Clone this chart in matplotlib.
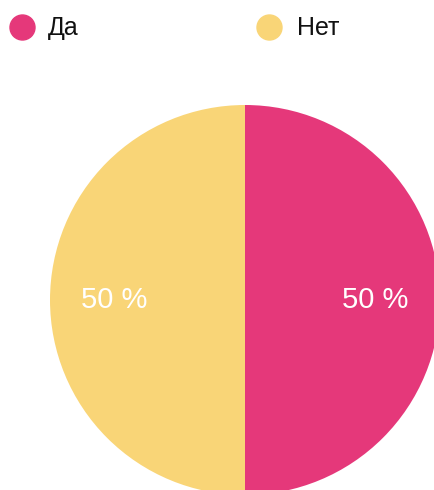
import matplotlib.pyplot as plt
from matplotlib.lines import Line2D

labels = ['Да', 'Нет']
values = [50, 50]
colors = ['#E5387A', '#F9D577']

plt.rcParams['font.family'] = ['Liberation Sans', 'DejaVu Sans']

fig = plt.figure(figsize=(4.34, 4.9), dpi=100)
W, H = 434, 490

# pie centre (245, 300) px from top, radius 195 px
cx, cy, r = 245, 490 - 300, 195
ax = fig.add_axes([(cx - r) / W, (cy - r) / H, 2 * r / W, 2 * r / H])
ax.pie(values, colors=colors, startangle=90, counterclock=False,
       autopct=lambda p: f'{p:.0f} %', pctdistance=0.67, radius=1,
       textprops={'color': 'white', 'fontsize': 21})
ax.set_xlim(-1, 1)
ax.set_ylim(-1, 1)
ax.set_aspect('equal')
ax.axis('off')

# legend row
legend_pos = [(22, 48), (269, 297)]
for (mx, tx), lab, col in zip(legend_pos, labels, colors):
    fig.add_artist(Line2D([mx / W], [1 - 27 / H], marker='o', markersize=18,
                          color=col, transform=fig.transFigure, linestyle=''))
    fig.text(tx / W, 1 - 28 / H, lab, fontsize=18, va='center', ha='left',
             color='#111111')

fig.savefig('out.png', dpi=100)
